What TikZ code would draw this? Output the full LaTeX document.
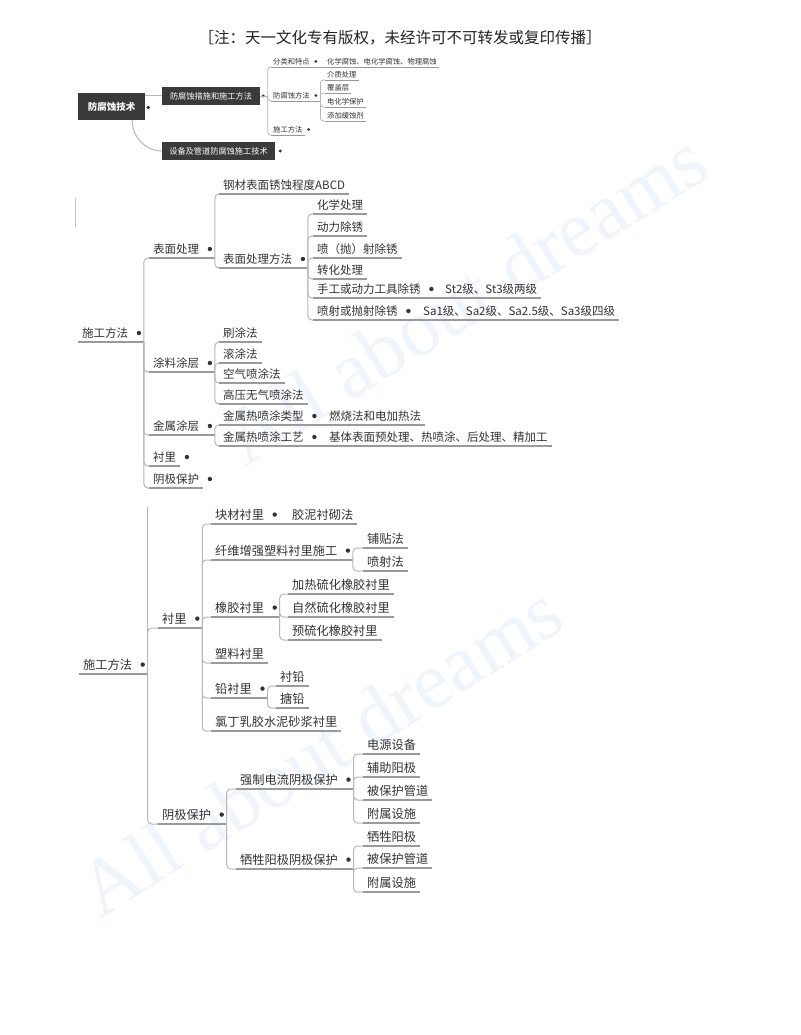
\documentclass[tikz,border=0pt]{standalone}
\usepackage{fontspec}
\newfontfamily\cjk{Noto Sans CJK SC}
\newfontfamily\wmfont{Liberation Serif}
\usetikzlibrary{calc}
\definecolor{txt}{HTML}{333333}
\definecolor{hdrc}{HTML}{222222}
\definecolor{ulc}{HTML}{9A9A9A}
\definecolor{cnc}{HTML}{B8B8B8}
\definecolor{boxc}{HTML}{3A3A3A}
\definecolor{wmc}{RGB}{240,244,251}
\newcommand\mdot[2][6.5pt]{\fill[txt] ([xshift=#1,yshift=0.9pt]#2.east) circle (2.2pt);}
\newcommand\sdot[2][4pt]{\fill[txt] ([xshift=#1,yshift=0.55pt]#2.east) circle (1.5pt);}
\newcommand\junc[2]{\coordinate (#1j) at ([xshift=#2]#1.south east); \draw[ul] (#1.south east) -- (#1j);}
\begin{document}
\begin{tikzpicture}[x=1pt,y=-1pt,
  ul/.style={draw=ulc, line width=1.1pt},
  cn/.style={draw=cnc, line width=1pt, rounded corners=4pt},
  cns/.style={draw=cnc, line width=0.8pt, rounded corners=3pt},
  tp/.style={anchor=south west, font=\cjk\fontsize{11.5}{13}\selectfont, text=txt,
    text height=9pt, text depth=2pt, inner xsep=4pt, inner ysep=2.4pt,
    append after command={(\tikzlastnode.south west) edge[ul] (\tikzlastnode.south east)}},
  tb/.style={tp, font=\cjk\fontsize{12.2}{14}\selectfont, text height=9.6pt, text depth=2.2pt},
  ts/.style={anchor=south west, font=\cjk\fontsize{7.3}{8}\selectfont, text=txt,
    text height=5.8pt, text depth=1.3pt, inner xsep=2pt, inner ysep=1.2pt,
    append after command={(\tikzlastnode.south west) edge[ul, line width=0.8pt] (\tikzlastnode.south east)}},
  darkbox/.style={fill=boxc, text=white, inner sep=0pt},
  wm/.style={font=\wmfont\fontsize{80}{80}\selectfont, text=wmc, rotate=32}
]
\useasboundingbox (0,0) rectangle (800,1035);
\fill[white] (0,0) rectangle (800,1035);

% watermarks
\node[wm] (wm1) at (320,750) {All about dreams};
\node[wm] (wm2) at (465,298) {All about dreams};

% header
\node[font=\cjk\fontsize{15.5}{17}\selectfont, text=hdrc] (hdr) at (400,38) {［注：天一文化专有版权，未经许可不可转发或复印传播］};

% ---------- top small map ----------
\node[darkbox, minimum width=67pt, minimum height=27pt, font=\cjk\bfseries\fontsize{9.5}{10}\selectfont] (r) at (111.5,106.5) {防腐蚀技术};
\node[darkbox, minimum width=98pt, minimum height=18pt, font=\cjk\fontsize{8.2}{9}\selectfont] (c1) at (211,96) {防腐蚀措施和施工方法};
\node[darkbox, minimum width=113pt, minimum height=18pt, font=\cjk\fontsize{8.2}{9}\selectfont] (c2) at (218.5,151) {设备及管道防腐蚀施工技术};
\fill[txt] ([xshift=3pt,yshift=-1pt]r.east) circle (1.8pt);
\fill[txt] ([xshift=3pt]c1.east) circle (1.6pt);
\fill[txt] ([xshift=5pt]c2.east) circle (1.6pt);
\draw[cn] (r.east |- c1.west) -- (c1.west);
\draw[cn] ([xshift=-13pt]r.south east) to[out=-90,in=180] (c2.west);

\node[ts] (s1) at (271,67) {分类和特点};
\node[ts] (s11) at (325,67) {化学腐蚀、电化学腐蚀、物理腐蚀};
\node[ts] (s2) at (271,101) {防腐蚀方法};
\node[ts] (s21) at (325,80) {介质处理};
\node[ts] (s22) at (325,93) {覆盖层};
\node[ts] (s23) at (325,107) {电化学保护};
\node[ts] (s24) at (325,121) {添加缓蚀剂};
\node[ts] (s3) at (271,135) {施工方法};
\coordinate (c1j) at ([xshift=7.5pt]c1.east);
\draw[cns] (c1.east) -- (c1j);
\foreach \c in {s1,s2,s3} \draw[cns] (c1j) |- (\c.south west);
\draw[ul, line width=0.8pt] (s1.south east) -- (s11.south west);
\coordinate (s2j) at ([xshift=8.5pt]s2.south east);
\draw[ul, line width=0.8pt] (s2.south east) -- (s2j);
\foreach \c in {s21,s22,s23,s24} \draw[cns] (s2j) |- (\c.south west);
\sdot{s1} \sdot{s2} \sdot{s3}

% ---------- middle map ----------
\draw[draw=ulc!60, line width=1pt] (75,198) -- (75,227);
\node[tp] (m0) at (78,342) {施工方法};
\node[tp] (m1) at (149,258) {表面处理};
\node[tp] (m11) at (219,194) {钢材表面锈蚀程度ABCD};
\node[tp] (m12) at (219,268) {表面处理方法};
\node[tp] (m121) at (313,214) {化学处理};
\node[tp] (m122) at (313,236) {动力除锈};
\node[tp] (m123) at (313,258) {喷（抛）射除锈};
\node[tp] (m124) at (313,279) {转化处理};
\node[tp] (m125) at (313,298) {手工或动力工具除锈};
\node[tp] (m1251) at (441,298) {St2级、St3级两级};
\node[tp] (m126) at (313,320) {喷射或抛射除锈};
\node[tp] (m1261) at (419,320) {Sa1级、Sa2级、Sa2.5级、Sa3级四级};
\node[tp] (m2) at (149,372) {涂料涂层};
\node[tp] (m21) at (219,342) {刷涂法};
\node[tp] (m22) at (219,363) {滚涂法};
\node[tp] (m23) at (219,383) {空气喷涂法};
\node[tp] (m24) at (219,404) {高压无气喷涂法};
\node[tp] (m3) at (149,435) {金属涂层};
\node[tp] (m31) at (219,425) {金属热喷涂类型};
\node[tp] (m311) at (325,425) {燃烧法和电加热法};
\node[tp] (m32) at (219,446) {金属热喷涂工艺};
\node[tp] (m321) at (325,446) {基体表面预处理、热喷涂、后处理、精加工};
\node[tp] (m4) at (149,466) {衬里};
\node[tp] (m5) at (149,488) {阴极保护};

\junc{m0}{11.5pt} \junc{m1}{11.5pt} \junc{m12}{11.5pt} \junc{m2}{11.5pt} \junc{m3}{11.5pt}
\foreach \c in {m1,m2,m3,m4,m5} \draw[cn] (m0j) |- (\c.south west);
\foreach \c in {m11,m12} \draw[cn] (m1j) |- (\c.south west);
\foreach \c in {m121,m122,m123,m124,m125,m126} \draw[cn] (m12j) |- (\c.south west);
\foreach \c in {m21,m22,m23,m24} \draw[cn] (m2j) |- (\c.south west);
\foreach \c in {m31,m32} \draw[cn] (m3j) |- (\c.south west);
\draw[ul] (m125.south east) -- (m1251.south west);
\draw[ul] (m126.south east) -- (m1261.south west);
\draw[ul] (m31.south east) -- (m311.south west);
\draw[ul] (m32.south east) -- (m321.south west);
\mdot{m0} \mdot{m1} \mdot{m12} \mdot{m125} \mdot{m126} \mdot{m2} \mdot{m3} \mdot{m31} \mdot{m32} \mdot{m4} \mdot{m5}

% ---------- bottom map ----------
\node[tb] (b0) at (79,674) {施工方法};
\node[tb] (b1) at (158,628) {衬里};
\node[tb] (b11) at (211,524) {块材衬里};
\node[tb] (b111) at (288,524) {胶泥衬砌法};
\node[tb] (b12) at (211,560) {纤维增强塑料衬里施工};
\node[tb] (b121) at (363,548) {铺贴法};
\node[tb] (b122) at (363,571) {喷射法};
\node[tb] (b13) at (211,617) {橡胶衬里};
\node[tb] (b131) at (288,594) {加热硫化橡胶衬里};
\node[tb] (b132) at (288,617) {自然硫化橡胶衬里};
\node[tb] (b133) at (288,640) {预硫化橡胶衬里};
\node[tb] (b14) at (211,663) {塑料衬里};
\node[tb] (b15) at (211,698) {铅衬里};
\node[tb] (b151) at (276,686) {衬铅};
\node[tb] (b152) at (276,708) {搪铅};
\node[tb] (b16) at (211,731) {氯丁乳胶水泥砂浆衬里};
\node[tb] (b2) at (158,824) {阴极保护};
\node[tb] (b21) at (236,789) {强制电流阴极保护};
\node[tb] (b211) at (363,754) {电源设备};
\node[tb] (b212) at (363,777) {辅助阳极};
\node[tb] (b213) at (363,800) {被保护管道};
\node[tb] (b214) at (363,823) {附属设施};
\node[tb] (b22) at (236,869) {牺牲阳极阴极保护};
\node[tb] (b221) at (363,846) {牺牲阳极};
\node[tb] (b222) at (363,868) {被保护管道};
\node[tb] (b223) at (363,892) {附属设施};

\junc{b0}{11.5pt} \junc{b1}{11.5pt} \junc{b12}{11.5pt} \junc{b13}{11.5pt} \junc{b15}{11.5pt}
\junc{b2}{11.5pt} \junc{b21}{11.5pt} \junc{b22}{11.5pt}
\coordinate (b0top) at (0,507);
\draw[cn] (b0j) -- (b0j |- b0top);
\foreach \c in {b1,b2} \draw[cn] (b0j) |- (\c.south west);
\foreach \c in {b11,b12,b13,b14,b15,b16} \draw[cn] (b1j) |- (\c.south west);
\draw[ul] (b11.south east) -- (b111.south west);
\foreach \c in {b121,b122} \draw[cn] (b12j) |- (\c.south west);
\foreach \c in {b131,b132,b133} \draw[cn] (b13j) |- (\c.south west);
\foreach \c in {b151,b152} \draw[cn] (b15j) |- (\c.south west);
\foreach \c in {b21,b22} \draw[cn] (b2j) |- (\c.south west);
\foreach \c in {b211,b212,b213,b214} \draw[cn] (b21j) |- (\c.south west);
\foreach \c in {b221,b222,b223} \draw[cn] (b22j) |- (\c.south west);
\mdot{b0} \mdot{b1} \mdot{b11} \mdot{b12} \mdot{b13} \mdot{b15} \mdot{b2} \mdot{b21} \mdot{b22}
\end{tikzpicture}
\end{document}
